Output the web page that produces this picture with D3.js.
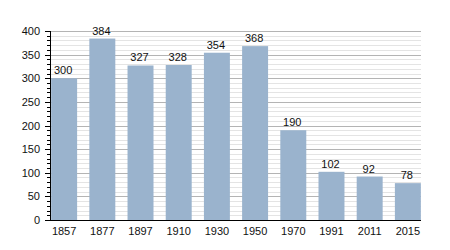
<!DOCTYPE html>
<html>
<head>
<meta charset="utf-8">
<script src="https://cdn.jsdelivr.net/npm/d3@7"></script>
<style>
  body { margin: 0; background: #fff; }
  text { font-family: "Liberation Sans", Arial, sans-serif; font-size: 11px; fill: #111; }
</style>
</head>
<body>
<svg id="chart" width="450" height="250"></svg>
<script>
const years = ["1857", "1877", "1897", "1910", "1930", "1950", "1970", "1991", "2011", "2015"];
const population = [300, 384, 327, 328, 354, 368, 190, 102, 92, 78];
const yTicks = [0, 50, 100, 150, 200, 250, 300, 350, 400];

const plotLeft = 50, plotRight = 421, plotTop = 31, plotBottom = 220;

const svg = d3.select("#chart");

const xScale = d3.scaleBand()
    .domain(years)
    .range([plotLeft, 422])
    .paddingInner(0.32)
    .paddingOuter(0.03);

const yScale = d3.scaleLinear()
    .domain([0, 400])
    .range([plotBottom, plotTop]);

// minor grid every 10
svg.append("g")
    .selectAll("line")
    .data(d3.range(10, 401, 10).filter(v => v % 50 !== 0))
    .enter()
    .append("line")
    .attr("x1", plotLeft).attr("x2", plotRight)
    .attr("y1", d => Math.round(yScale(d)) + 0.5)
    .attr("y2", d => Math.round(yScale(d)) + 0.5)
    .attr("stroke", "#e4e4e4");

// major grid every 50
svg.append("g")
    .selectAll("line")
    .data(yTicks.slice(1))
    .enter()
    .append("line")
    .attr("x1", plotLeft).attr("x2", plotRight)
    .attr("y1", d => Math.round(yScale(d)) + 0.5)
    .attr("y2", d => Math.round(yScale(d)) + 0.5)
    .attr("stroke", "#b4b4b4");

// bars
svg.append("g")
    .selectAll("rect")
    .data(population)
    .enter()
    .append("rect")
    .attr("x", (d, i) => xScale(years[i]))
    .attr("y", d => yScale(d))
    .attr("width", xScale.bandwidth())
    .attr("height", d => plotBottom - yScale(d))
    .style("fill", "#9ab3cd");

// value labels
svg.append("g")
    .selectAll("text")
    .data(population)
    .enter()
    .append("text")
    .attr("x", (d, i) => xScale(years[i]) + xScale.bandwidth() / 2 - 1)
    .attr("y", d => yScale(d) - 4)
    .attr("text-anchor", "middle")
    .text(d => d);

// y axis ticks
svg.append("g")
    .selectAll("line")
    .data(d3.range(0, 401, 10))
    .enter()
    .append("line")
    .attr("x1", d => d % 50 === 0 ? plotLeft - 5 : plotLeft - 3)
    .attr("x2", plotLeft)
    .attr("y1", d => Math.round(yScale(d)) + 0.5)
    .attr("y2", d => Math.round(yScale(d)) + 0.5)
    .attr("stroke", "#000");

// y axis line
svg.append("line")
    .attr("x1", plotLeft + 0.5).attr("x2", plotLeft + 0.5)
    .attr("y1", plotTop).attr("y2", plotBottom + 1)
    .attr("stroke", "#000");

// x axis line
svg.append("line")
    .attr("x1", plotLeft).attr("x2", plotRight)
    .attr("y1", plotBottom + 0.5).attr("y2", plotBottom + 0.5)
    .attr("stroke", "#000");

// y labels
svg.append("g")
    .selectAll("text")
    .data(yTicks)
    .enter()
    .append("text")
    .attr("x", plotLeft - 10)
    .attr("y", d => yScale(d) + 4)
    .attr("text-anchor", "end")
    .text(d => d);

// x labels
svg.append("g")
    .selectAll("text")
    .data(years)
    .enter()
    .append("text")
    .attr("x", d => xScale(d) + xScale.bandwidth() / 2)
    .attr("y", plotBottom + 15)
    .attr("text-anchor", "middle")
    .text(d => d);
</script>
</body>
</html>
